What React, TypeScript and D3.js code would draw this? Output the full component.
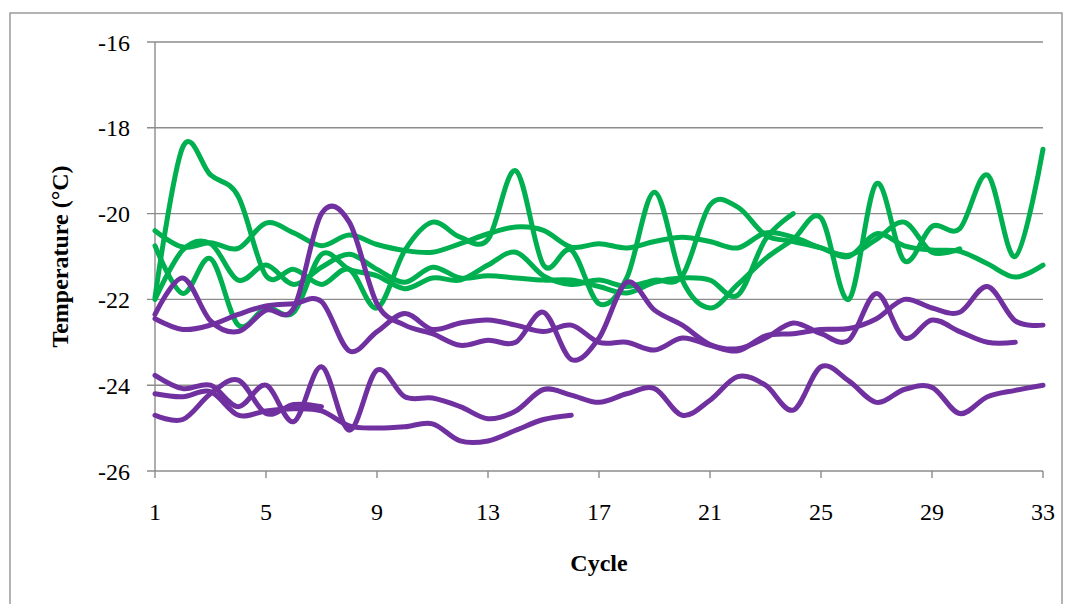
import React from "react";
import * as d3 from "d3";

// Cycle axis and temperature axis ticks
const xTickValues = [1, 5, 9, 13, 17, 21, 25, 29, 33];
const yTickValues = [-26, -24, -22, -20, -18, -16];

// Green runs (°C per cycle)
const greenA = [
  -20.4, -20.78, -20.68, -20.81, -20.22, -20.45, -20.75, -20.5, -20.72, -20.86,
  -20.9, -20.7, -20.47, -20.31, -20.39, -20.78, -20.7, -20.8, -20.65, -20.55,
  -20.65, -20.8, -20.45, -20.55, -20.8, -20.97, -20.6, -20.2, -20.9, -20.82,
];
const greenB = [
  -20.75, -21.86, -21.05, -22.6, -22.2, -22.3, -20.95, -21.3, -21.45, -21.75,
  -21.5, -21.55, -21.2, -20.9, -21.45, -21.65, -21.55, -21.7, -21.55, -21.45,
  -19.8, -19.85, -20.5, -20.65, -20.8, -21.0, -20.47, -20.75, -20.85, -20.88,
  -21.17, -21.48, -21.2,
];
const greenC = [
  -21.95, -18.45, -19.1, -19.6, -21.45, -21.3, -21.65, -21.3, -22.2, -20.86,
  -20.2, -20.55, -20.6, -19.0, -21.2, -20.85, -22.1, -21.5, -19.5, -21.55,
  -22.2, -21.65, -21.05, -20.6, -20.1, -22.0, -19.3, -21.1, -20.3, -20.35,
  -19.1, -21.0, -18.5,
];
const greenD = [
  -22.0, -20.85, -20.7, -21.55, -21.2, -21.65, -21.25, -20.95, -21.3, -21.6,
  -21.25, -21.5, -21.45, -21.5, -21.55, -21.55, -21.7, -21.85, -21.6, -21.5,
  -21.55, -21.9, -20.6, -20.0,
];

// Purple runs (°C per cycle)
const purpleA = [
  -22.35, -21.5, -22.5, -22.75, -22.25, -22.2, -20.0, -20.2, -22.1, -22.6,
  -22.8, -23.07, -22.95, -23.0, -22.3, -23.4, -22.9, -21.6, -22.25, -22.6,
  -23.05, -23.15, -22.9, -22.55, -22.8, -22.95, -21.86, -22.9, -22.48, -22.75,
  -23.0, -23.0,
];
const purpleB = [
  -22.45, -22.7, -22.6, -22.35, -22.15, -22.1, -22.05, -23.2, -22.75, -22.33,
  -22.7, -22.55, -22.48, -22.6, -22.75, -22.6, -23.0, -23.0, -23.18, -22.9,
  -23.07, -23.2, -22.85, -22.8, -22.7, -22.68, -22.45, -22.0, -22.2, -22.3,
  -21.7, -22.5, -22.6,
];
const purpleC = [
  -23.77, -24.08, -24.0, -24.5, -24.0, -24.85, -23.57, -25.05, -23.65, -24.27,
  -24.3, -24.5, -24.78, -24.6, -24.1, -24.23, -24.4, -24.2, -24.08, -24.7,
  -24.35, -23.8, -24.0, -24.58, -23.57, -23.9, -24.4, -24.1, -24.05, -24.66,
  -24.27, -24.12, -24.0,
];
const purpleD = [
  -24.2, -24.27, -24.15, -24.7, -24.6, -24.55, -24.6, -24.95, -25.0, -24.97,
  -24.9, -25.3, -25.3, -25.05, -24.8, -24.7,
];
const purpleE = [-24.7, -24.8, -24.2, -23.88, -24.66, -24.45, -24.5];

const GREEN = "#00B050";
const PURPLE = "#7030A0";
const GRID = "#8c8c8c";

const series = [
  { values: greenA, color: GREEN },
  { values: greenB, color: GREEN },
  { values: greenC, color: GREEN },
  { values: greenD, color: GREEN },
  { values: purpleA, color: PURPLE },
  { values: purpleB, color: PURPLE },
  { values: purpleC, color: PURPLE },
  { values: purpleD, color: PURPLE },
  { values: purpleE, color: PURPLE },
];

const W = 1072;
const H = 604;
const x = d3.scaleLinear().domain([1, 33]).range([155, 1043]);
const y = d3.scaleLinear().domain([-26, -16]).range([471, 42]);

const lineGen = d3
  .line<number>()
  .x((_, i) => x(i + 1))
  .y((d) => y(d))
  .curve(d3.curveCardinal.tension(0));

const serif: React.CSSProperties = {
  fontFamily: '"Liberation Serif", "Times New Roman", Times, serif',
};

export default function App() {
  const [x0, x1] = x.range();
  const [yBottom, yTop] = y.range();
  return (
    <svg
      width={W}
      height={H}
      style={{ position: "absolute", left: 0, top: 0, background: "#fff" }}
    >
      <rect x={10} y={13} width={1052} height={620} fill="#fff" stroke={GRID} strokeWidth={1.3} />
      {/* horizontal gridlines */}
      {yTickValues.map((t) => (
        <line key={`g${t}`} x1={x0 - 8} x2={x1} y1={y(t)} y2={y(t)} stroke={GRID} strokeWidth={1.4} />
      ))}
      {/* y axis */}
      <line x1={x0} x2={x0} y1={yTop} y2={yBottom} stroke={GRID} strokeWidth={1.4} />
      {/* x ticks */}
      {xTickValues.map((t) => (
        <line key={`xt${t}`} x1={x(t)} x2={x(t)} y1={yBottom} y2={yBottom + 7} stroke={GRID} strokeWidth={1.4} />
      ))}
      {/* y tick labels */}
      {yTickValues.map((t) => (
        <text key={`yl${t}`} x={130} y={y(t) + 8.5} textAnchor="end" style={serif} fontSize={24} fill="#000">
          {t}
        </text>
      ))}
      {/* x tick labels */}
      {xTickValues.map((t) => (
        <text key={`xl${t}`} x={x(t)} y={520} textAnchor="middle" style={serif} fontSize={24} fill="#000">
          {t}
        </text>
      ))}
      {/* data lines */}
      {series.map((s, i) => (
        <path
          key={i}
          d={lineGen(s.values) ?? ""}
          fill="none"
          stroke={s.color}
          strokeWidth={5}
          strokeLinecap="round"
          strokeLinejoin="round"
        />
      ))}
      <text x={(x0 + x1) / 2} y={571} textAnchor="middle" style={serif} fontSize={24} fontWeight="bold">
        Cycle
      </text>
      <text
        transform={`translate(68, ${(yTop + yBottom) / 2}) rotate(-90)`}
        textAnchor="middle"
        style={serif}
        fontSize={24}
        fontWeight="bold"
      >
        Temperature (°C)
      </text>
    </svg>
  );
}
